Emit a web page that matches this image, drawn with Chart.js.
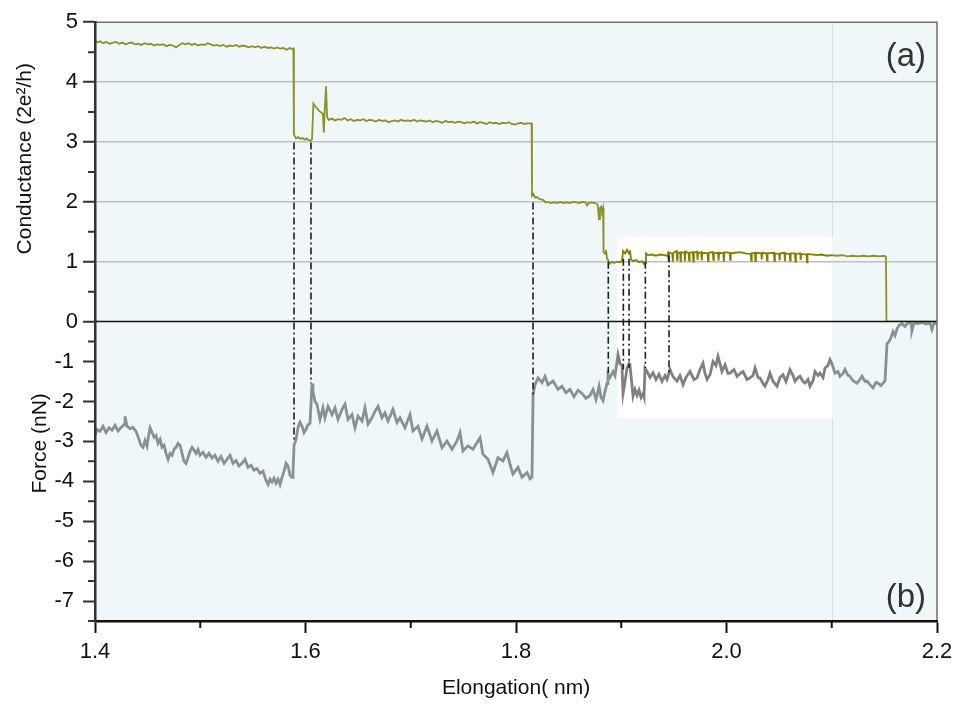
<!DOCTYPE html>
<html>
<head>
<meta charset="utf-8">
<title>Conductance and force vs elongation</title>
<script src="https://cdn.jsdelivr.net/npm/chart.js@4.4.1/dist/chart.umd.min.js"></script>
<style>
  html, body { margin: 0; padding: 0; background: #ffffff; }
</style>
</head>
<body>
<canvas id="myChart" width="959" height="705"></canvas>
<script>
// conductance trace, 2e^2/h
const condX = [
  1.400, 1.402, 1.405, 1.408, 1.411, 1.414, 1.417, 1.420, 1.423, 1.426, 1.429, 1.432, 1.435, 1.438, 1.441,
  1.444, 1.447, 1.450, 1.453, 1.456, 1.459, 1.462, 1.465, 1.468, 1.471, 1.474, 1.477, 1.480, 1.483, 1.486,
  1.489, 1.492, 1.495, 1.498, 1.501, 1.504, 1.507, 1.510, 1.513, 1.516, 1.519, 1.522, 1.525, 1.528, 1.531,
  1.534, 1.537, 1.540, 1.543, 1.546, 1.549, 1.552, 1.555, 1.558, 1.561, 1.564, 1.567, 1.570, 1.573, 1.576,
  1.579, 1.582, 1.585, 1.5875, 1.5885,
  1.5890, 1.591, 1.593, 1.595, 1.597, 1.599, 1.601, 1.603, 1.605, 1.6062,
  1.6075, 1.609, 1.611, 1.613, 1.615, 1.6165, 1.6175, 1.618, 1.6195, 1.6205, 1.622,
  1.625, 1.628, 1.631, 1.634, 1.637, 1.640, 1.643, 1.646, 1.649, 1.652, 1.655, 1.658, 1.661, 1.664, 1.667,
  1.670, 1.673, 1.676, 1.679, 1.682, 1.685, 1.688, 1.691, 1.694, 1.697, 1.700, 1.703, 1.706, 1.709, 1.712,
  1.715, 1.718, 1.721, 1.724, 1.727, 1.730, 1.733, 1.736, 1.739, 1.742, 1.745, 1.748, 1.751, 1.754, 1.757,
  1.760, 1.763, 1.766, 1.769, 1.772, 1.775, 1.778, 1.781, 1.784, 1.787, 1.790, 1.793, 1.796, 1.799, 1.802,
  1.805, 1.808, 1.811, 1.8148,
  1.8152, 1.8165, 1.818, 1.820, 1.822, 1.824, 1.826, 1.828, 1.830, 1.833, 1.836, 1.839, 1.842, 1.845, 1.848,
  1.851, 1.854, 1.857, 1.860, 1.863, 1.866, 1.8675, 1.869, 1.872, 1.875, 1.8775, 1.8789, 1.8798, 1.8808,
  1.8817, 1.8827,
  1.8832, 1.8846, 1.8855, 1.8865, 1.8874, 1.8893, 1.8912, 1.8931, 1.8960, 1.8988, 1.9007, 1.9017, 1.9036,
  1.9055, 1.9074, 1.9083, 1.9093, 1.9112, 1.9140, 1.9169, 1.9197, 1.9216, 1.9226, 1.9235, 1.9254, 1.9292,
  1.9330, 1.9368, 1.9406, 1.9435,
  1.9444, 1.9449, 1.9454, 1.9485, 1.9490, 1.9495, 1.9525, 1.9530, 1.9535, 1.9560, 1.9565, 1.9570, 1.9600,
  1.9605, 1.9610, 1.9640, 1.9645, 1.9650, 1.9680, 1.9685, 1.9690, 1.9720, 1.9725, 1.9730, 1.9760, 1.9765,
  1.9770, 1.9820, 1.9825, 1.9830, 1.9870, 1.9875, 1.9880, 1.9920, 1.9925, 1.9930, 1.9970, 1.9975, 1.9980,
  2.0030, 2.0035, 2.0040, 2.0080, 2.0130, 2.0180, 2.0230, 2.0235, 2.0240, 2.0270, 2.0275, 2.0280, 2.0330,
  2.0335, 2.0340, 2.0380, 2.0385, 2.0390, 2.0450, 2.0455, 2.0460, 2.0500, 2.0505, 2.0510, 2.0550, 2.0555,
  2.0560, 2.0600, 2.0605, 2.0610, 2.0650, 2.0655, 2.0660, 2.0700, 2.0705, 2.0710, 2.0760, 2.0765, 2.0770,
  2.0820, 2.0860, 2.0900, 2.0950, 2.1000, 2.1050, 2.1100, 2.1150, 2.1200, 2.1250, 2.1300, 2.1350, 2.1400,
  2.1450, 2.1500, 2.1515, 2.1520, 2.2000
];
const condG = [
  4.70, 4.66, 4.68, 4.65, 4.67, 4.64, 4.66, 4.67, 4.64, 4.66, 4.63, 4.65, 4.66, 4.63, 4.64,
  4.62, 4.65, 4.63, 4.64, 4.61, 4.63, 4.62, 4.63, 4.60, 4.62, 4.61, 4.58, 4.62, 4.65, 4.63,
  4.65, 4.62, 4.64, 4.61, 4.63, 4.62, 4.65, 4.63, 4.61, 4.62, 4.60, 4.62, 4.59, 4.61, 4.60,
  4.62, 4.59, 4.61, 4.60, 4.58, 4.60, 4.58, 4.60, 4.57, 4.59, 4.57, 4.58, 4.56, 4.58, 4.56,
  4.57, 4.54, 4.57, 4.55, 4.56,
  3.12, 3.06, 3.08, 3.05, 3.07, 3.04, 3.06, 3.03, 3.02, 3.05,
  3.64, 3.60, 3.56, 3.52, 3.49, 3.47, 3.16, 3.45, 3.93, 3.42, 3.37,
  3.39, 3.36, 3.38, 3.37, 3.40, 3.36, 3.38, 3.35, 3.37, 3.36, 3.38, 3.35, 3.37, 3.36, 3.34,
  3.37, 3.35, 3.36, 3.33, 3.35, 3.36, 3.34, 3.37, 3.35, 3.36, 3.35, 3.37, 3.34, 3.36, 3.35,
  3.34, 3.36, 3.33, 3.35, 3.34, 3.32, 3.35, 3.33, 3.34, 3.32, 3.34, 3.33, 3.31, 3.33, 3.32,
  3.34, 3.31, 3.33, 3.32, 3.30, 3.33, 3.31, 3.32, 3.30, 3.32, 3.31, 3.33, 3.30, 3.29, 3.31,
  3.32, 3.30, 3.31, 3.31,
  2.10, 2.13, 2.07, 2.08, 2.05, 2.04, 2.03, 1.99, 2.00, 1.98, 1.99, 1.98, 2.00, 1.98, 1.99,
  1.98, 2.00, 1.99, 1.98, 2.00, 1.99, 1.94, 1.98, 1.99, 1.98, 1.96, 1.71, 1.90, 1.92,
  1.84, 1.90,
  1.16, 1.13, 1.20, 1.05, 1.03, 0.97, 1.00, 0.98, 1.00, 0.99, 1.01, 1.18, 1.14,
  1.20, 1.13, 1.19, 1.04, 1.01, 1.03, 0.99, 1.01, 0.96, 0.98, 1.14, 1.11, 1.12,
  1.10, 1.12, 1.11, 1.10,
  1.17, 1.02, 1.16, 1.13, 1.00, 1.15, 1.18, 1.03, 1.16, 1.14, 0.99, 1.16, 1.15,
  1.01, 1.17, 1.14, 1.02, 1.15, 1.16, 1.00, 1.15, 1.17, 1.03, 1.14, 1.16, 1.02,
  1.15, 1.14, 1.01, 1.15, 1.16, 1.03, 1.14, 1.15, 1.02, 1.15, 1.14, 1.00, 1.16,
  1.15, 1.03, 1.14, 1.15, 1.16, 1.14, 1.13, 1.02, 1.14, 1.15, 1.01, 1.15, 1.14,
  1.04, 1.15, 1.14, 1.02, 1.14, 1.15, 1.01, 1.14, 1.13, 1.02, 1.14, 1.15, 1.01,
  1.14, 1.13, 1.02, 1.14, 1.14, 1.00, 1.13, 1.14, 1.03, 1.13, 1.12, 0.99, 1.13,
  1.12, 1.11, 1.12, 1.10, 1.11, 1.10, 1.11, 1.09, 1.10, 1.09, 1.10, 1.09, 1.10,
  1.09, 1.10, 1.08, 0.00, 0.00
];

// force trace, nN
const forceX = [
  1.4000, 1.4019, 1.4048, 1.4076, 1.4105, 1.4133, 1.4162, 1.4190, 1.4219, 1.4247, 1.4276, 1.4285, 1.4304,
  1.4333, 1.4361, 1.4390, 1.4418, 1.4437, 1.4456, 1.4475, 1.4494, 1.4513, 1.4523, 1.4542, 1.4561, 1.4580,
  1.4599, 1.4618, 1.4637, 1.4656, 1.4675, 1.4694, 1.4713, 1.4732, 1.4751, 1.4770, 1.4789, 1.4808, 1.4827,
  1.4846, 1.4865, 1.4884, 1.4903, 1.4922, 1.4941, 1.4960, 1.4979, 1.4998, 1.5026, 1.5055, 1.5083, 1.5112,
  1.5140, 1.5169, 1.5197, 1.5226, 1.5254, 1.5283, 1.5311, 1.5340, 1.5368, 1.5397, 1.5425, 1.5454, 1.5482,
  1.5511, 1.5539, 1.5568, 1.5596, 1.5625, 1.5644, 1.5663, 1.5682, 1.5701, 1.5720, 1.5739, 1.5758, 1.5777,
  1.5796, 1.5815, 1.5834, 1.5853, 1.5872, 1.5881,
  1.5891, 1.5910, 1.5929, 1.5948, 1.5967, 1.5986, 1.6005, 1.6024, 1.6043, 1.6062, 1.6071, 1.6090, 1.6109,
  1.6138, 1.6166, 1.6185, 1.6214, 1.6252, 1.6280, 1.6309, 1.6347, 1.6375, 1.6404, 1.6442, 1.6470, 1.6499,
  1.6537, 1.6565, 1.6594, 1.6632, 1.6660, 1.6689, 1.6727, 1.6755, 1.6784, 1.6831, 1.6869, 1.6898, 1.6945,
  1.6993, 1.7021, 1.7069, 1.7107, 1.7154, 1.7202, 1.7249, 1.7297, 1.7344, 1.7392, 1.7439, 1.7468, 1.7496,
  1.7544, 1.7591, 1.7639, 1.7658, 1.7686, 1.7734, 1.7781, 1.7829, 1.7876, 1.7914, 1.7943, 1.7971, 1.8019,
  1.8057, 1.8105, 1.8133, 1.8152,
  1.8162, 1.8181, 1.8209, 1.8247, 1.8276, 1.8304, 1.8352, 1.8399, 1.8437, 1.8475, 1.8513, 1.8551, 1.8589,
  1.8627, 1.8665, 1.8703, 1.8732, 1.8760, 1.8789, 1.8808, 1.8827, 1.8846, 1.8865, 1.8874, 1.8893, 1.8922,
  1.8941, 1.8969, 1.8988, 1.9007, 1.9017, 1.9036, 1.9055, 1.9074, 1.9083, 1.9102, 1.9112, 1.9131, 1.9150,
  1.9169, 1.9188, 1.9207, 1.9216, 1.9226, 1.9245, 1.9273, 1.9302, 1.9330, 1.9359, 1.9387, 1.9416, 1.9435,
  1.9463, 1.9492, 1.9530, 1.9558, 1.9587, 1.9615, 1.9653, 1.9691, 1.9720, 1.9748, 1.9777, 1.9796, 1.9815,
  1.9843, 1.9872, 1.9900, 1.9919, 1.9938, 1.9957, 1.9986, 2.0014, 2.0033, 2.0071, 2.0100, 2.0128, 2.0157,
  2.0195, 2.0223, 2.0252, 2.0271, 2.0299, 2.0318, 2.0347, 2.0366, 2.0394, 2.0413, 2.0442, 2.0480, 2.0508,
  2.0537, 2.0565, 2.0603, 2.0632, 2.0651, 2.0679, 2.0698, 2.0727, 2.0746, 2.0774, 2.0793, 2.0822, 2.0841,
  2.0869, 2.0888, 2.0917, 2.0936, 2.0964, 2.0983, 2.1002, 2.1031, 2.1059, 2.1078, 2.1107, 2.1126, 2.1154,
  2.1173, 2.1202, 2.1240, 2.1268, 2.1287, 2.1316, 2.1335, 2.1363, 2.1392, 2.1420, 2.1439, 2.1468, 2.1487,
  2.1506,
  2.1525, 2.1544, 2.1563, 2.1582, 2.1601, 2.1620, 2.1639, 2.1667, 2.1696, 2.1724, 2.1753, 2.1762, 2.1781,
  2.1819, 2.1857, 2.1896, 2.1934, 2.1952, 2.1971, 2.2000
];
const forceF = [
  -2.85, -2.70, -2.75, -2.62, -2.78, -2.66, -2.72, -2.60, -2.74, -2.65, -2.58, -2.37, -2.62,
  -2.68, -2.65, -2.75, -2.95, -3.10, -3.15, -2.98, -3.12, -2.80, -2.66, -2.78, -2.90, -2.85,
  -3.05, -2.95, -3.15, -3.10, -3.30, -3.45, -3.30, -3.35, -3.20, -3.15, -3.05, -3.10, -3.30,
  -3.50, -3.55, -3.40, -3.25, -3.15, -3.22, -3.30, -3.20, -3.35, -3.28, -3.40, -3.30, -3.42,
  -3.35, -3.50, -3.38, -3.55, -3.45, -3.35, -3.55, -3.48, -3.62, -3.55, -3.45, -3.65, -3.60,
  -3.72, -3.68, -3.80, -3.75, -3.98, -4.08, -3.95, -4.02, -3.92, -4.05, -3.95, -4.08, -3.90,
  -3.75, -3.55, -3.62, -3.85, -3.90, -3.82,
  -3.10, -2.95, -2.65, -2.52, -2.62, -2.78, -2.70, -2.58, -2.55, -1.55, -1.75, -2.00, -2.07,
  -2.45, -2.16, -2.41, -2.12, -2.33, -2.16, -2.45, -2.20, -2.07, -2.45, -2.33, -2.66, -2.37,
  -2.49, -2.16, -2.57, -2.41, -2.25, -2.12, -2.41, -2.29, -2.49, -2.20, -2.53, -2.41, -2.66,
  -2.33, -2.74, -2.62, -2.94, -2.62, -2.99, -2.74, -3.16, -2.99, -3.20, -2.99, -2.78, -3.24,
  -3.11, -3.20, -2.99, -2.91, -3.32, -3.45, -3.78, -3.41, -3.49, -3.28, -3.57, -3.82, -3.65,
  -3.90, -3.78, -3.94, -3.90,
  -1.83, -1.58, -1.41, -1.53, -1.37, -1.58, -1.49, -1.70, -1.62, -1.78, -1.70, -1.88, -1.72,
  -1.80, -1.92, -1.85, -1.70, -1.95, -1.62, -1.90, -1.98, -1.75, -1.55, -1.32, -1.40, -1.25,
  -1.35, -0.83, -1.05, -1.10, -1.80, -1.50, -1.16, -1.05, -1.10, -1.60, -1.87, -1.70, -1.85,
  -1.72, -1.90, -1.80, -1.88, -1.17, -1.25, -1.40, -1.28, -1.45, -1.32, -1.50, -1.35, -1.45,
  -1.20, -1.38, -1.49, -1.35, -1.58, -1.40, -1.25, -1.45, -1.41, -1.20, -1.04, -1.30, -1.45,
  -1.33, -1.00, -1.10, -0.87, -1.05, -1.25, -1.08, -1.30, -1.29, -1.20, -1.37, -1.30, -1.25,
  -1.45, -1.41, -1.35, -1.16, -1.40, -1.41, -1.55, -1.62, -1.45, -1.29, -1.50, -1.62, -1.40,
  -1.33, -1.50, -1.20, -1.35, -1.49, -1.40, -1.37, -1.50, -1.54, -1.45, -1.62, -1.48, -1.25,
  -1.35, -1.29, -1.40, -1.16, -1.10, -0.95, -1.05, -1.29, -1.25, -1.37, -1.30, -1.20, -1.35,
  -1.37, -1.48, -1.54, -1.45, -1.37, -1.50, -1.49, -1.58, -1.66, -1.52, -1.54, -1.60, -1.54,
  -1.49,
  -0.55, -0.50, -0.40, -0.25, -0.35, -0.18, -0.10, -0.05, -0.12, -0.02, -0.05, -0.22, -0.03,
  -0.05, -0.02, -0.06, -0.03, -0.20, -0.04, -0.05
];

// dash-dot guides joining each conductance step to the force trace
const linkX = [1.5891, 1.6052, 1.8162, 1.8877, 1.9020, 1.9074, 1.9229, 1.9454];
const linkTopG = [2.99, 2.99, 1.99, 1.00, 1.05, 1.05, 1.00, 1.11];
const linkBottomF = [-2.99, -1.55, -1.83, -1.29, -1.20, -1.16, -1.16, -1.29];

// highlighted window (white box)
const boxX = [1.896, 2.100];
const boxTopG = 1.41;
const boxBottomF = -2.42;

const xTicks = [1.4, 1.6, 1.8, 2.0, 2.2];
const xMinorTicks = [1.5, 1.7, 1.9, 2.1];
const gTicks = [0, 1, 2, 3, 4, 5];
const gMinorTicks = [0.5, 1.5, 2.5, 3.5, 4.5];
const fTicks = [-1, -2, -3, -4, -5, -6, -7];
const fMinorTicks = [-0.5, -1.5, -2.5, -3.5, -4.5, -5.5, -6.5, -7.5];

const FONT = "'Liberation Sans', Arial, sans-serif";
Chart.defaults.font.family = FONT;

const toPoints = (xs, ys) => xs.map((x, i) => ({ x: x, y: ys[i] }));

// blue-ish tint over the plot, leaving the window white
const plotDecor = {
  id: 'plotDecor',
  afterDatasetsDraw(chart) {
    const { ctx, chartArea: a, scales } = chart;
    const x = scales.x, yG = scales.yG, yF = scales.yF;

    const bx0 = x.getPixelForValue(boxX[0]);
    const bx1 = x.getPixelForValue(boxX[1]);
    const by0 = yG.getPixelForValue(boxTopG);
    const by1 = yF.getPixelForValue(boxBottomF);

    ctx.save();
    ctx.beginPath();
    ctx.rect(a.left, a.top, a.right - a.left, a.bottom - a.top);
    ctx.rect(bx0, by0, bx1 - bx0, by1 - by0);
    ctx.fillStyle = 'rgba(175, 215, 225, 0.2)';
    ctx.fill('evenodd');

    // faint edge of the window running the full height
    ctx.strokeStyle = 'rgba(200, 215, 220, 0.7)';
    ctx.lineWidth = 1;
    ctx.beginPath();
    ctx.moveTo(Math.round(bx1) + 0.5, a.top);
    ctx.lineTo(Math.round(bx1) + 0.5, by0);
    ctx.moveTo(Math.round(bx1) + 0.5, by1);
    ctx.lineTo(Math.round(bx1) + 0.5, a.bottom);
    ctx.stroke();

    // zero line between the two panels
    const y0 = yG.getPixelForValue(0);
    ctx.strokeStyle = '#111';
    ctx.lineWidth = 1.5;
    ctx.beginPath();
    ctx.moveTo(a.left, y0);
    ctx.lineTo(a.right, y0);
    ctx.stroke();

    // top and right frame
    ctx.strokeStyle = '#6e6e6e';
    ctx.lineWidth = 1.5;
    ctx.beginPath();
    ctx.moveTo(a.left, a.top);
    ctx.lineTo(a.right, a.top);
    ctx.lineTo(a.right, a.bottom);
    ctx.stroke();

    // dash-dot guides
    ctx.strokeStyle = '#1e1e1e';
    ctx.lineWidth = 1.6;
    ctx.setLineDash([7, 3, 2, 3]);
    linkX.forEach((v, i) => {
      const px = x.getPixelForValue(v);
      ctx.beginPath();
      ctx.moveTo(px, yG.getPixelForValue(linkTopG[i]));
      ctx.lineTo(px, yF.getPixelForValue(linkBottomF[i]));
      ctx.stroke();
    });
    ctx.setLineDash([]);

    // minor ticks
    ctx.strokeStyle = '#333';
    ctx.lineWidth = 2;
    ctx.beginPath();
    gMinorTicks.forEach(v => {
      const py = yG.getPixelForValue(v);
      ctx.moveTo(a.left - 7, py);
      ctx.lineTo(a.left, py);
    });
    fMinorTicks.forEach(v => {
      const py = yF.getPixelForValue(v);
      ctx.moveTo(a.left - 7, py);
      ctx.lineTo(a.left, py);
    });
    ctx.stroke();
    ctx.strokeStyle = '#111';
    ctx.beginPath();
    xMinorTicks.forEach(v => {
      const px = x.getPixelForValue(v);
      ctx.moveTo(px, a.bottom);
      ctx.lineTo(px, a.bottom + 7);
    });
    ctx.stroke();

    // panel letters
    ctx.fillStyle = '#333';
    ctx.font = '33px ' + FONT;
    ctx.textAlign = 'right';
    ctx.textBaseline = 'middle';
    ctx.fillText('(a)', a.right - 11, a.top + 35);
    ctx.fillText('(b)', a.right - 11, a.bottom - 23);

    // axis titles for the two stacked panels
    ctx.fillStyle = '#111';
    ctx.font = '21px ' + FONT;
    ctx.textAlign = 'center';
    ctx.textBaseline = 'middle';
    ctx.save();
    ctx.translate(25, yG.getPixelForValue(2.72));
    ctx.rotate(-Math.PI / 2);
    ctx.fillText('Conductance (2e\u00B2/h)', 0, 0);
    ctx.restore();
    ctx.save();
    ctx.translate(40, yF.getPixelForValue(-3.05));
    ctx.rotate(-Math.PI / 2);
    ctx.fillText('Force (nN)', 0, 0);
    ctx.restore();

    ctx.restore();
  }
};

const ctx = document.getElementById('myChart');

const myChart = new Chart(ctx, {
  type: 'line',
  data: {
    datasets: [
      {
        label: 'Conductance',
        data: toPoints(condX, condG),
        yAxisID: 'yG',
        borderColor: '#808000',
        borderWidth: 1.8,
        pointRadius: 0,
        tension: 0
      },
      {
        label: 'Force',
        data: toPoints(forceX, forceF),
        yAxisID: 'yF',
        borderColor: '#808080',
        borderWidth: 2.8,
        pointRadius: 0,
        tension: 0
      }
    ]
  },
  options: {
    responsive: false,
    animation: false,
    events: [],
    layout: { padding: { top: 19, right: 22, left: 0, bottom: 0 } },
    plugins: {
      legend: { display: false },
      tooltip: { enabled: false }
    },
    scales: {
      x: {
        type: 'linear',
        position: 'bottom',
        min: 1.4,
        max: 2.2,
        afterBuildTicks: s => { s.ticks = xTicks.map(v => ({ value: v })); },
        afterFit: s => { s.height = 84; },
        ticks: {
          callback: v => v.toFixed(1),
          font: { size: 22 },
          color: '#111',
          padding: 6,
          autoSkip: false,
          maxRotation: 0
        },
        grid: {
          drawOnChartArea: false,
          tickLength: 12,
          tickWidth: 2,
          tickColor: '#111'
        },
        border: { color: '#111', width: 2.5, z: 1 },
        title: {
          display: true,
          text: 'Elongation( nm)',
          font: { size: 21 },
          color: '#111',
          padding: { top: 0, bottom: 4 }
        }
      },
      // lower panel first: the last stacked axis ends up on top
      yF: {
        type: 'linear',
        position: 'left',
        stack: 'panels',
        stackWeight: 1,
        min: -7.5,
        max: 0,
        afterBuildTicks: s => { s.ticks = fTicks.map(v => ({ value: v })); },
        afterFit: s => { s.width = 95; },
        ticks: { font: { size: 22 }, color: '#111', padding: 9, autoSkip: false },
        grid: {
          drawOnChartArea: false,
          tickLength: 12,
          tickWidth: 2,
          tickColor: '#333'
        },
        border: { color: '#333', width: 2.5, z: 1 }
      },
      yG: {
        type: 'linear',
        position: 'left',
        stack: 'panels',
        stackWeight: 1,
        min: 0,
        max: 5,
        afterBuildTicks: s => { s.ticks = gTicks.map(v => ({ value: v })); },
        afterFit: s => { s.width = 95; },
        ticks: { font: { size: 22 }, color: '#111', padding: 5, autoSkip: false },
        grid: {
          color: c => (c.tick && c.tick.value > 0 && c.tick.value < 5) ? '#bdbdbd' : 'rgba(0,0,0,0)',
          lineWidth: 1.5,
          tickLength: 12,
          tickWidth: 2,
          tickColor: '#333'
        },
        border: { color: '#333', width: 2.5, z: 1 }
      }
    }
  },
  plugins: [plotDecor]
});
</script>
</body>
</html>
